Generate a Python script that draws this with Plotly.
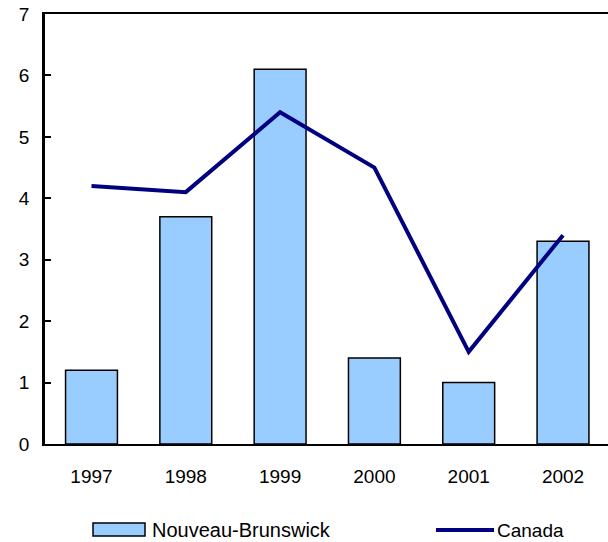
import plotly.graph_objects as go

years = ["1997", "1998", "1999", "2000", "2001", "2002"]
nb_values = [1.2, 3.7, 6.1, 1.4, 1.0, 3.3]
canada_values = [4.2, 4.1, 5.4, 4.5, 1.5, 3.4]
y_ticks = [0, 1, 2, 3, 4, 5, 6, 7]

FONT = "Arial, Liberation Sans, sans-serif"
BAR_COLOR = "#99CCFF"
LINE_COLOR = "#000080"

fig = go.Figure()
fig.add_trace(go.Bar(
    x=years, y=nb_values, name="Nouveau-Brunswick",
    marker=dict(color=BAR_COLOR, line=dict(color="black", width=1.5)),
    showlegend=False,
))
fig.add_trace(go.Scatter(
    x=years, y=canada_values, name="Canada", mode="lines",
    line=dict(color=LINE_COLOR, width=4),
    showlegend=False,
))

W, H = 608, 542
# plot area in window pixels: x 45..608, y 14..444
L, T, R = 45, 14, 0
B = H - 444
pw = W - L - R
ph = H - T - B

def px(x):
    return (x - L) / pw

def py(y):
    return (H - B - y) / ph

shapes = [
    dict(type="rect", xref="paper", yref="paper",
         x0=px(93), x1=px(145), y0=py(536), y1=py(523),
         fillcolor=BAR_COLOR, line=dict(color="black", width=1.5)),
    dict(type="line", xref="paper", yref="paper",
         x0=px(436), x1=px(494), y0=py(530), y1=py(530),
         line=dict(color=LINE_COLOR, width=4)),
]
annotations = [
    dict(text="Nouveau-Brunswick", xref="paper", yref="paper",
         x=px(150), y=py(530), xanchor="left", yanchor="middle",
         showarrow=False, font=dict(family=FONT, size=20, color="black")),
    dict(text="Canada", xref="paper", yref="paper",
         x=px(495), y=py(530), xanchor="left", yanchor="middle",
         showarrow=False, font=dict(family=FONT, size=19, color="black")),
]

fig.update_layout(
    width=W, height=H,
    margin=dict(l=L, r=R, t=T, b=B, pad=0),
    paper_bgcolor="white", plot_bgcolor="white",
    font=dict(family=FONT, size=19, color="black"),
    bargap=0.45,
    shapes=shapes, annotations=annotations,
    showlegend=False,
)
fig.update_xaxes(
    type="category", range=[-0.493, 5.477],
    showline=True, linecolor="black", linewidth=2, mirror=True,
    ticks="", showgrid=False, ticklabelstandoff=14,
)
fig.update_yaxes(
    range=[0, 7], tickvals=y_ticks,
    showline=True, linecolor="black", linewidth=2.5,
    ticks="inside", ticklen=6, tickwidth=2, tickcolor="black",
    showgrid=False, zeroline=False, ticklabelstandoff=9,
)

fig.write_html(
    "out.html",
    config={"displayModeBar": False},
    post_script="document.body.style.margin='0';document.body.style.overflow='hidden';",
)
